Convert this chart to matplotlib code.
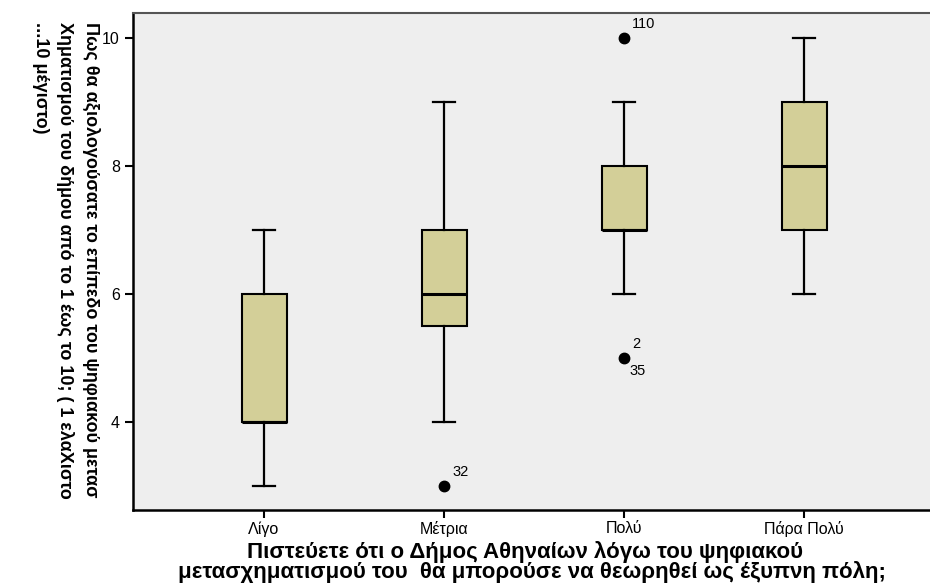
import matplotlib
matplotlib.use('Agg')
import matplotlib.pyplot as plt

# ---------------------------------------------------------
#                      data
# ---------------------------------------------------------

categories = ['Λίγο', 'Μέτρια', 'Πολύ', 'Πάρα Πολύ']
q1 = [4, 5.5, 7, 7]
medians = [4, 6, 7, 8]
q3 = [6, 7, 8, 9]
whisker_low = [3, 4, 6, 6]
whisker_high = [7, 9, 9, 10]
outlier_values = [[], [3], [10, 5], []]
# case numbers printed next to each outlier (above / below the dot)
outlier_cases = [[], [['32']], [['110'], ['2', '35']], []]
y_ticks = [4, 6, 8, 10]

xlabel = ('Πιστεύετε ότι ο Δήμος Αθηναίων λόγω του ψηφιακού  \n'
          'μετασχηματισμού του  θα μπορούσε να θεωρηθεί ως έξυπνη πόλη;')
ylabel = ('Πως θα αξιολογούσατε το επίπεδο του ψηφιακού μετασ\n'
          'Χηματισμού του δήμου από το 1 έως το 10; ( 1 ελαΧιστο\n'
          '...10 μέγιστο)')

# ---------------------------------------------------------
#                      plot
# ---------------------------------------------------------

plt.rcParams['font.family'] = ['Liberation Sans', 'DejaVu Sans']

fig = plt.figure(figsize=(9.3, 5.88), dpi=100)
ax = fig.add_axes([133 / 930, 78 / 588, 1 - 133 / 930, 497 / 588])
ax.set_facecolor('#eeeeee')

stats = []
for i, cat in enumerate(categories):
    stats.append(dict(label=cat, med=medians[i], q1=q1[i], q3=q3[i],
                      whislo=whisker_low[i], whishi=whisker_high[i],
                      fliers=outlier_values[i]))

positions = list(range(1, len(categories) + 1))
ax.bxp(stats, positions=positions, widths=0.25, patch_artist=True,
       boxprops=dict(facecolor='#d3cf98', edgecolor='black', linewidth=1.5),
       medianprops=dict(color='black', linewidth=2.2),
       whiskerprops=dict(color='black', linewidth=1.6),
       capprops=dict(color='black', linewidth=1.6),
       capwidths=0.125,
       flierprops=dict(marker='o', markerfacecolor='black', markeredgecolor='black',
                       markersize=7.5, linestyle='none'))

# case labels of the outliers
for i, vals in enumerate(outlier_values):
    for v, labels in zip(vals, outlier_cases[i]):
        ax.annotate(labels[0], (positions[i], v), xytext=(6, 5), textcoords='offset points',
                    fontsize=10.5, ha='left', va='bottom')
        if len(labels) > 1:
            ax.annotate(labels[1], (positions[i], v), xytext=(4, -4), textcoords='offset points',
                        fontsize=10.5, ha='left', va='top')

ax.set_xlim(0.272, 0.272 + 797 / 180)
ax.set_ylim(2.625, 10.39)
ax.set_yticks(y_ticks)
ax.set_xticks(positions)
ax.set_xticklabels(categories)
ax.tick_params(axis='both', direction='out', length=6, width=1.5, labelsize=11.5)
ax.tick_params(axis='x', pad=2)

for side in ['left', 'bottom']:
    ax.spines[side].set_linewidth(1.8)
    ax.spines[side].set_color('black')
ax.spines['top'].set_linewidth(1.5)
ax.spines['top'].set_color('#555555')
ax.spines['right'].set_visible(False)

ax.set_xlabel(xlabel, fontsize=16, fontweight='bold', labelpad=3, linespacing=0.88)
fig.text(66 / 930, 1 - 22 / 588, ylabel, rotation=-90, ha='center', va='top',
         multialignment='left', fontsize=13, fontweight='bold', linespacing=1.55,
         family=['Liberation Sans Narrow', 'Liberation Sans', 'DejaVu Sans'])

fig.savefig('out.png', dpi=100)
